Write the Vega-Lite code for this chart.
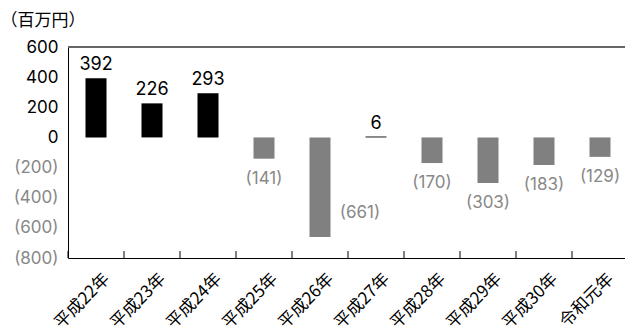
{
  "$schema": "https://vega.github.io/schema/vega-lite/v6.json",
  "width": 560,
  "height": 211,
  "autosize": {"type": "none"},
  "padding": {"left": 68, "top": 47, "right": -3, "bottom": 76},
  "config": {
    "view": {"stroke": null},
    "font": "Inter",
    "axisY": {
      "titleAngle": 0,
      "titleAlign": "left",
      "titleBaseline": "middle",
      "titleX": -68,
      "titleY": -27,
      "titleFont": "Noto Sans CJK JP",
      "titleFontSize": 17,
      "titleFontWeight": "normal",
      "titleColor": "black",
      "labelOverlap": false,
      "ticks": false,
      "grid": false,
      "domainColor": "black",
      "labelFontSize": 17,
      "labelPadding": 10
    }
  },
  "data": {
    "values": [
      {"year": "平成22年", "value": 392, "label": "392"},
      {"year": "平成23年", "value": 226, "label": "226"},
      {"year": "平成24年", "value": 293, "label": "293"},
      {"year": "平成25年", "value": -141, "label": "(141)"},
      {"year": "平成26年", "value": -661, "label": "(661)"},
      {"year": "平成27年", "value": 6, "label": "6"},
      {"year": "平成28年", "value": -170, "label": "(170)"},
      {"year": "平成29年", "value": -303, "label": "(303)"},
      {"year": "平成30年", "value": -183, "label": "(183)"},
      {"year": "令和元年", "value": -129, "label": "(129)"}
    ]
  },
  "layer": [
    {
      "mark": {"type": "bar", "width": {"band": 0.375}},
      "encoding": {
        "x": {
          "field": "year",
          "type": "nominal",
          "sort": null,
          "scale": {"paddingInner": 0, "paddingOuter": 0},
          "axis": {
            "title": null,
            "labelAngle": -45,
            "labelAlign": "right",
            "labelBaseline": "middle",
            "labelFont": "Noto Sans CJK JP",
            "labelFontSize": 17,
            "labelColor": "black",
            "labelPadding": 18,
            "labelOffset": 11,
            "labelOverlap": false,
            "ticks": false,
            "domainColor": "black",
            "grid": false
          }
        },
        "y": {
          "field": "value",
          "type": "quantitative",
          "scale": {"domain": [-800, 600], "nice": false},
          "axis": {
            "title": "（百万円）",
            "values": [-800, -600, -400, -200, 0, 200, 400, 600],
            "labelExpr": "datum.value < 0 ? '(' + format(-datum.value, 'd') + ')' : datum.label",
            "labelColor": {"condition": {"test": "datum.value < 0", "value": "#888888"}, "value": "black"}
          }
        },
        "color": {"condition": {"test": "datum.value >= 0", "value": "black"}, "value": "#808080"}
      }
    },
    {
      "mark": {"type": "rule", "stroke": "#666666", "strokeWidth": 1},
      "encoding": {
        "y": {
          "datum": 600,
          "type": "quantitative",
          "axis": {
            "title": "（百万円）",
            "values": [-800, -600, -400, -200, 0, 200, 400, 600],
            "labelExpr": "datum.value < 0 ? '(' + format(-datum.value, 'd') + ')' : datum.label",
            "labelColor": {"condition": {"test": "datum.value < 0", "value": "#888888"}, "value": "black"}
          }
        }
      }
    },
    {
      "mark": {"type": "rule", "stroke": "black", "strokeWidth": 1},
      "encoding": {
        "x": {"field": "year", "type": "nominal", "sort": null, "bandPosition": 0},
        "y": {
          "datum": -800,
          "type": "quantitative",
          "axis": {
            "title": "（百万円）",
            "values": [-800, -600, -400, -200, 0, 200, 400, 600],
            "labelExpr": "datum.value < 0 ? '(' + format(-datum.value, 'd') + ')' : datum.label",
            "labelColor": {"condition": {"test": "datum.value < 0", "value": "#888888"}, "value": "black"}
          }
        },
        "y2": {"datum": -754}
      }
    },
    {
      "transform": [{"filter": "datum.value >= 0"}],
      "mark": {"type": "text", "baseline": "middle", "dy": -13, "fontSize": 18, "color": "black"},
      "encoding": {
        "x": {"field": "year", "type": "nominal", "sort": null},
        "y": {
          "field": "value",
          "type": "quantitative",
          "axis": {
            "title": "（百万円）",
            "values": [-800, -600, -400, -200, 0, 200, 400, 600],
            "labelExpr": "datum.value < 0 ? '(' + format(-datum.value, 'd') + ')' : datum.label",
            "labelColor": {"condition": {"test": "datum.value < 0", "value": "#888888"}, "value": "black"}
          }
        },
        "text": {"field": "label"}
      }
    },
    {
      "transform": [{"filter": "datum.value < 0 && datum.year != '平成26年'"}],
      "mark": {"type": "text", "baseline": "middle", "dy": 20, "fontSize": 17, "color": "#888888"},
      "encoding": {
        "x": {"field": "year", "type": "nominal", "sort": null},
        "y": {
          "field": "value",
          "type": "quantitative",
          "axis": {
            "title": "（百万円）",
            "values": [-800, -600, -400, -200, 0, 200, 400, 600],
            "labelExpr": "datum.value < 0 ? '(' + format(-datum.value, 'd') + ')' : datum.label",
            "labelColor": {"condition": {"test": "datum.value < 0", "value": "#888888"}, "value": "black"}
          }
        },
        "text": {"field": "label"}
      }
    },
    {
      "transform": [{"filter": "datum.year == '平成26年'"}],
      "mark": {"type": "text", "baseline": "middle", "dx": 40, "dy": -24, "fontSize": 17, "color": "#888888"},
      "encoding": {
        "x": {"field": "year", "type": "nominal", "sort": null},
        "y": {
          "field": "value",
          "type": "quantitative",
          "axis": {
            "title": "（百万円）",
            "values": [-800, -600, -400, -200, 0, 200, 400, 600],
            "labelExpr": "datum.value < 0 ? '(' + format(-datum.value, 'd') + ')' : datum.label",
            "labelColor": {"condition": {"test": "datum.value < 0", "value": "#888888"}, "value": "black"}
          }
        },
        "text": {"field": "label"}
      }
    }
  ]
}
